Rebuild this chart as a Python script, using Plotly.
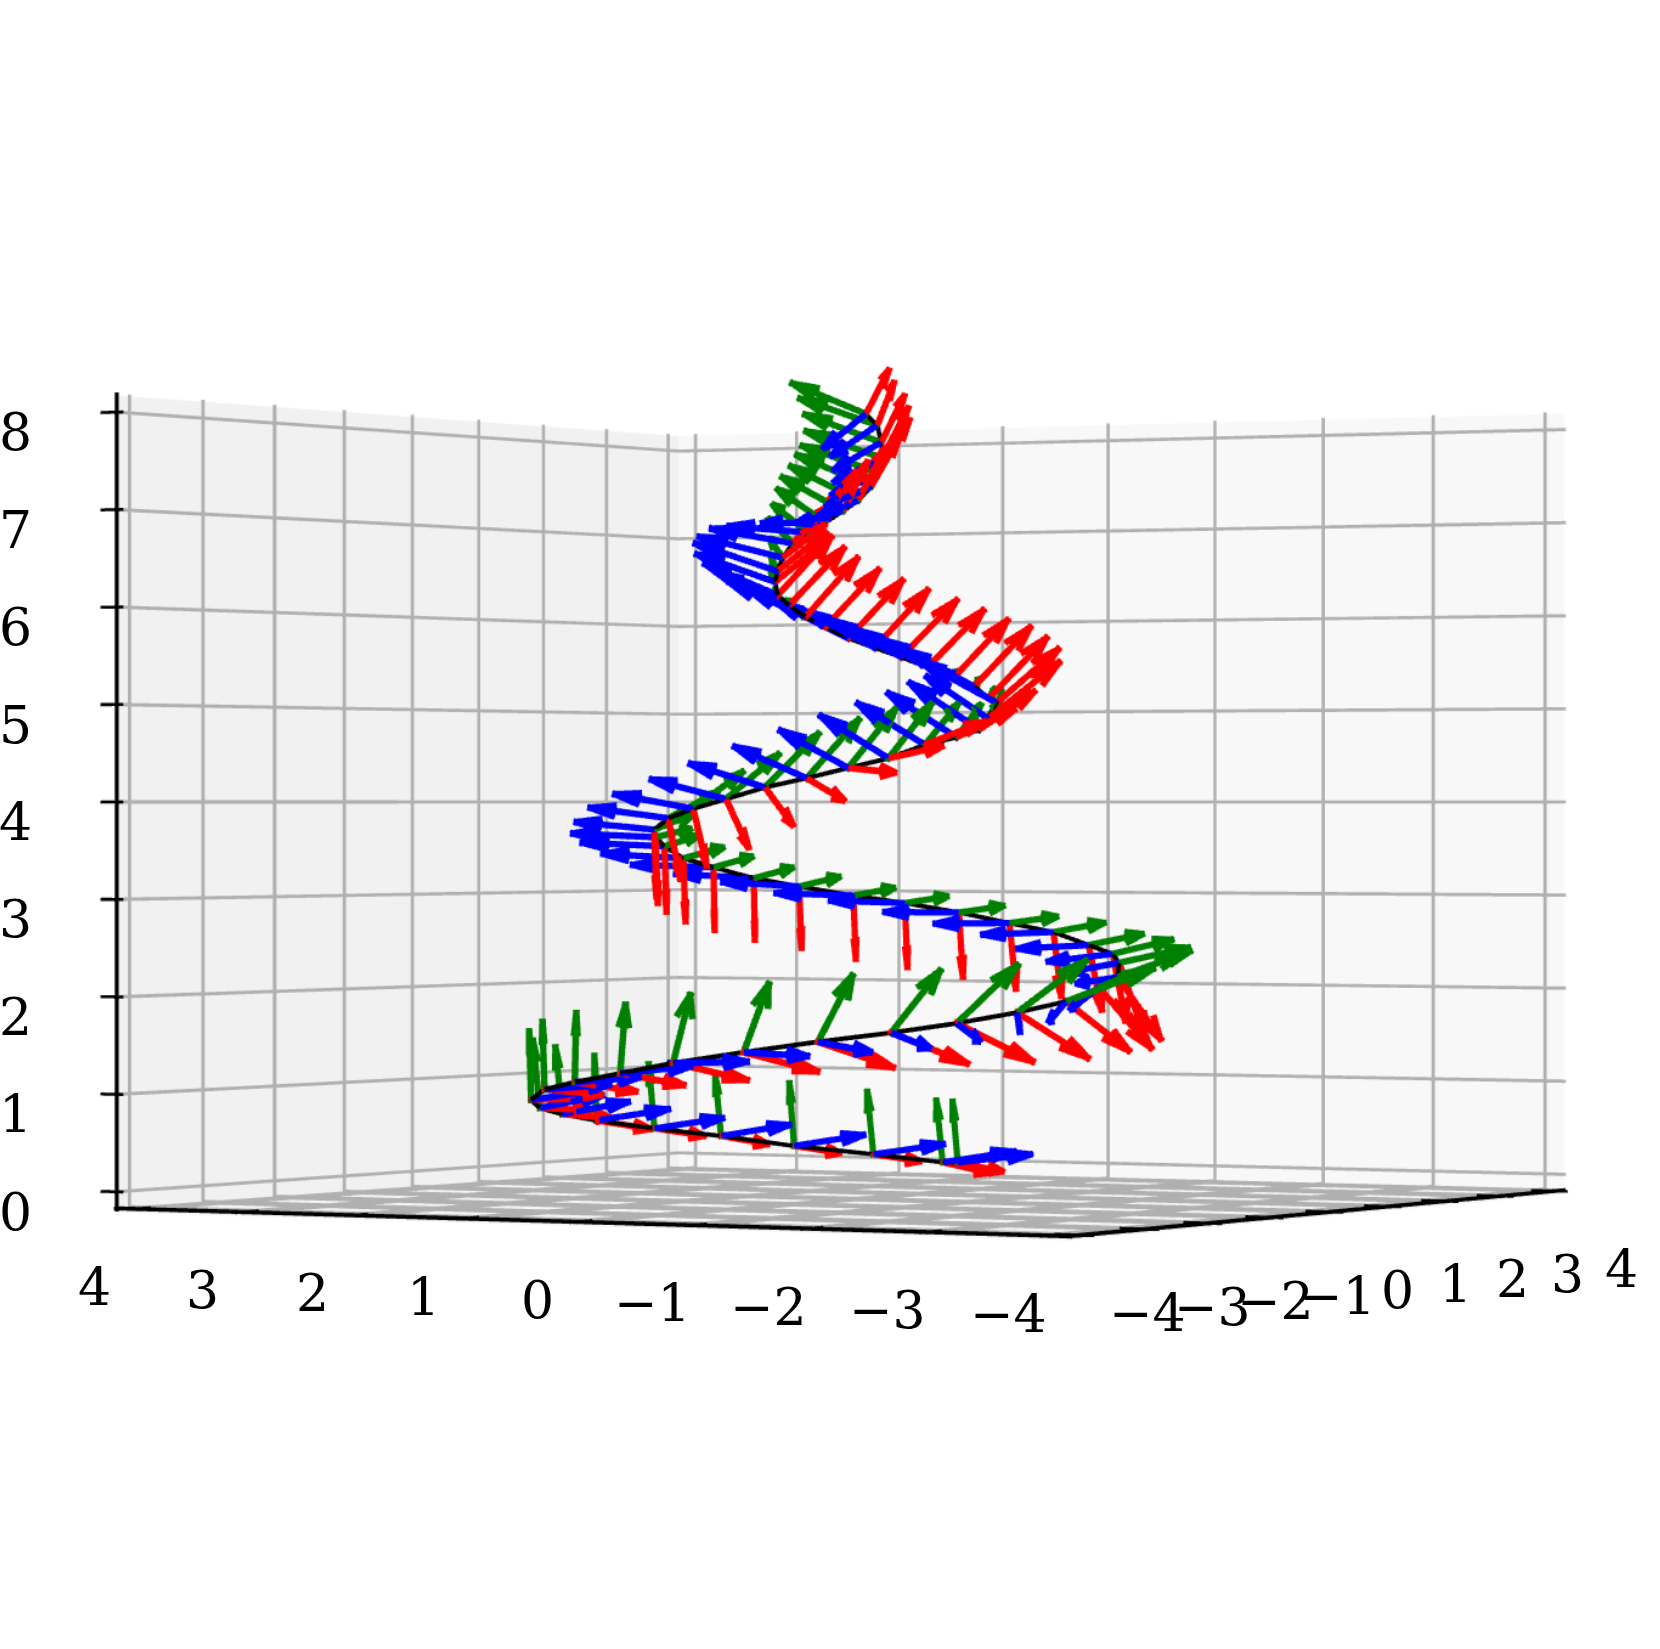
import numpy as np
import plotly.graph_objects as go

# view-aligned readings: u runs across the picture, w runs away from the viewer
SPINE_U = [0.825,0.702,0.134,-0.516,-1.111,-1.648,-2.105,-2.365,-2.527,-2.577,-2.438,-2.184,-1.82,-1.406,-0.863,-0.297,0.259,0.759,1.225,1.61,1.878,2.043,2.063,2.02,1.845,1.574,1.227,0.824,0.387,-0.03,-0.468,-0.832,-1.152,-1.388,-1.531,-1.589,-1.595,-1.48,-1.275,-1.016,-0.711,-0.389,-0.068,0.243,0.527,0.773,0.953,1.026,1.10,1.04,0.928,0.771,0.562,0.351,0.141,-0.07,-0.251,-0.41,-0.539,-0.627,-0.645,-0.625,-0.585,-0.506,-0.387,-0.248,-0.109,0.01,0.11,0.17,0.20,0.19,0.16,0.07]
SPINE_W = [2.70,2.73,2.79,2.72,2.51,2.17,1.68,1.24,0.75,0.23,-0.63,-1.17,-1.64,-1.97,-2.24,-2.35,-2.31,-2.14,-1.86,-1.45,-0.95,-0.36,0.00,0.20,0.74,1.16,1.47,1.69,1.80,1.81,1.72,1.55,1.28,0.96,0.59,0.10,-0.10,-0.33,-0.75,-1.02,-1.22,-1.31,-1.33,-1.26,-1.11,-0.90,-0.66,-0.43,0.00,0.05,0.40,0.60,0.75,0.83,0.87,0.84,0.76,0.65,0.49,0.28,0.00,-0.10,-0.12,-0.15,-0.22,-0.32,-0.35,-0.32,-0.24,-0.13,0.00,0.05,0.08,0.08]
SPINE_Z = [0.06,0.06,0.145,0.24,0.36,0.46,0.57,0.66,0.75,0.86,1.01,1.11,1.22,1.34,1.46,1.57,1.66,1.75,1.85,1.95,2.08,2.17,2.31,2.40,2.48,2.61,2.70,2.81,2.91,2.99,3.09,3.18,3.30,3.40,3.53,3.63,3.71,3.83,3.93,4.03,4.15,4.245,4.35,4.45,4.59,4.67,4.75,4.87,5.04,5.09,5.22,5.32,5.43,5.54,5.64,5.74,5.86,5.96,6.08,6.18,6.31,6.42,6.56,6.71,6.82,6.92,7.04,7.15,7.30,7.45,7.61,7.78,7.96,8.08]

RED_U = [0.38,0.39,0.39,0.38,0.38,0.40,0.43,0.38,0.39,0.47,0.43,0.46,0.48,0.56,0.56,0.57,0.58,0.58,0.54,0.48,0.40,0.33,0.20,0.10,0.10,0.06,0.05,0.03,0.02,0.02,0.02,0.01,0.01,0.02,0.02,0.02,0.02,0.10,0.11,0.18,0.22,0.29,0.36,0.41,0.45,0.44,0.42,0.55,0.48,0.45,0.44,0.42,0.44,0.44,0.42,0.43,0.42,0.41,0.43,0.42,0.42,0.38,0.33,0.30,0.26,0.24,0.19,0.21,0.22,0.24,0.20,0.18,0.13,0.18]
RED_W = [0.57,0.56,0.57,0.57,0.57,0.56,0.54,0.57,0.57,0.52,0.55,0.50,0.45,0.38,0.36,0.30,0.24,0.12,0.00,0.00,-0.05,-0.05,-0.10,-0.05,-0.10,-0.10,-0.10,-0.10,-0.10,-0.10,-0.10,-0.10,-0.10,-0.10,-0.10,-0.10,-0.10,-0.30,-0.36,-0.45,-0.54,-0.58,-0.60,-0.55,-0.49,-0.45,-0.35,-0.10,-0.05,-0.05,-0.05,-0.05,-0.05,-0.05,-0.05,-0.05,-0.05,-0.05,-0.05,-0.05,-0.30,-0.35,-0.45,-0.47,-0.47,-0.40,-0.45,-0.45,-0.45,-0.43,-0.45,-0.49,-0.53,-0.50]
RED_Z = [-0.13,-0.15,-0.11,-0.11,-0.12,-0.11,-0.12,-0.07,-0.05,-0.01,-0.08,-0.12,-0.14,-0.19,-0.21,-0.27,-0.32,-0.39,-0.46,-0.50,-0.62,-0.64,-0.76,-0.70,-0.68,-0.68,-0.70,-0.69,-0.69,-0.68,-0.66,-0.66,-0.67,-0.67,-0.69,-0.69,-0.70,-0.63,-0.59,-0.50,-0.39,-0.23,-0.05,0.12,0.23,0.28,0.39,0.58,0.56,0.63,0.62,0.60,0.60,0.60,0.61,0.61,0.60,0.62,0.60,0.61,0.44,0.39,0.32,0.38,0.41,0.51,0.49,0.53,0.49,0.53,0.50,0.46,0.42,0.43]

GREEN_U = [-0.04,-0.05,-0.05,-0.04,-0.05,-0.05,-0.02,-0.06,-0.06,-0.02,-0.02,0.01,0.04,0.13,0.19,0.26,0.37,0.46,0.52,0.66,0.66,0.55,0.53,0.45,0.41,0.39,0.37,0.35,0.34,0.33,0.33,0.32,0.32,0.33,0.27,0.29,0.33,0.39,0.39,0.41,0.41,0.40,0.36,0.33,0.26,0.20,0.14,0.10,0.06,0.05,0.04,0.03,0.03,0.02,0.02,0.01,0.00,-0.02,-0.02,-0.03,-0.04,-0.06,-0.11,-0.20,-0.28,-0.38,-0.48,-0.53,-0.58,-0.60,-0.60,-0.60,-0.61,-0.58]
GREEN_W = [0.15,0.15,0.15,0.15,0.15,0.15,0.15,0.15,0.15,0.15,0.10,0.05,0.05,0.00,-0.05,-0.10,-0.10,-0.10,-0.15,-0.20,-0.30,-0.40,-0.45,-0.50,-0.58,-0.58,-0.58,-0.58,-0.58,-0.58,-0.58,-0.58,-0.58,-0.58,-0.58,-0.58,-0.50,-0.45,-0.40,-0.30,-0.10,0.00,0.10,0.25,0.45,0.55,0.62,0.67,0.69,0.69,0.69,0.69,0.69,0.69,0.69,0.69,0.69,0.69,0.69,0.69,0.68,0.67,0.65,0.60,0.55,0.45,0.35,0.25,0.20,0.15,0.15,0.15,0.15,0.15]
GREEN_Z = [0.66,0.67,0.68,0.68,0.65,0.69,0.69,0.71,0.71,0.72,0.70,0.71,0.70,0.69,0.69,0.67,0.63,0.59,0.53,0.34,0.38,0.28,0.17,0.16,0.13,0.11,0.08,0.08,0.08,0.09,0.11,0.12,0.12,0.12,0.11,0.09,0.17,0.27,0.38,0.46,0.55,0.60,0.60,0.56,0.43,0.35,0.26,0.19,0.13,0.11,0.08,0.07,0.07,0.07,0.06,0.06,0.06,0.06,0.06,0.07,0.13,0.19,0.23,0.29,0.32,0.37,0.37,0.37,0.34,0.29,0.29,0.30,0.29,0.33]

BLUE_U = [0.59,0.58,0.57,0.57,0.56,0.56,0.59,0.54,0.51,0.52,0.52,0.51,0.55,0.57,0.49,0.40,0.29,0.17,0.01,-0.15,-0.24,-0.34,-0.41,-0.52,-0.57,-0.57,-0.60,-0.60,-0.60,-0.62,-0.61,-0.62,-0.64,-0.63,-0.64,-0.64,-0.60,-0.60,-0.60,-0.57,-0.57,-0.55,-0.52,-0.52,-0.52,-0.53,-0.54,-0.48,-0.53,-0.54,-0.55,-0.56,-0.56,-0.56,-0.56,-0.57,-0.60,-0.60,-0.57,-0.57,-0.61,-0.64,-0.65,-0.63,-0.61,-0.49,-0.36,-0.33,-0.35,-0.37,-0.38,-0.37,-0.36,-0.33]
BLUE_W = [-0.38,-0.38,-0.38,-0.38,-0.38,-0.38,-0.38,-0.38,-0.38,-0.38,-0.45,-0.48,-0.42,-0.40,-0.50,-0.56,-0.62,-0.65,-0.67,-0.66,-0.63,-0.60,-0.55,-0.45,-0.35,-0.35,-0.35,-0.35,-0.35,-0.35,-0.35,-0.35,-0.35,-0.35,-0.35,-0.35,-0.35,-0.33,-0.33,-0.33,-0.33,-0.30,-0.28,-0.25,-0.25,-0.25,-0.25,-0.25,-0.20,-0.20,-0.20,-0.20,-0.20,-0.20,-0.20,-0.20,-0.20,-0.20,-0.20,-0.20,-0.25,-0.20,-0.20,-0.30,-0.40,-0.50,-0.55,-0.55,-0.55,-0.55,-0.55,-0.55,-0.55,-0.55]
BLUE_Z = [0.11,0.14,0.13,0.14,0.14,0.13,0.14,0.15,0.15,0.12,0.07,0.07,0.09,0.03,-0.02,-0.08,-0.13,-0.16,-0.19,-0.19,-0.21,-0.05,-0.08,-0.07,-0.03,-0.02,0.00,0.01,0.03,0.03,0.05,0.05,0.03,0.05,0.04,0.04,0.08,0.11,0.15,0.20,0.24,0.32,0.38,0.43,0.42,0.45,0.48,0.43,0.38,0.39,0.38,0.39,0.39,0.39,0.39,0.38,0.38,0.36,0.34,0.32,0.28,0.28,0.21,0.14,0.05,-0.03,-0.15,-0.21,-0.23,-0.26,-0.28,-0.32,-0.35,-0.39]

TICKS_XY = [-4, -3, -2, -1, 0, 1, 2, 3, 4]
TICKS_Z = [0, 1, 2, 3, 4, 5, 6, 7, 8]
LABELS_XY = ["−4", "−3", "−2", "−1", "0", "1", "2", "3", "4"]

LIM = 4.17
ZLO, ZHI = -0.17, 8.17
AZ_SIN, AZ_COS = 0.866, 0.5
HEAD = 0.3
SPREAD = np.radians(15)

# the plot is laid out much larger than the window, to get the long lens of the reference
CANVAS = 7000
EYE = 7.98
CENTER_X, CENTER_Y = 857, 802
PX_PER_BOX = CANVAS / 2 / (EYE * np.tan(np.pi / 8))
SPAN = 2 * LIM
ROOM = 6  # axis ranges run past the panes because plotly clips marks at its ranges
CAM = np.array([AZ_COS * EYE, -AZ_SIN * EYE, 0.0])


def to_xy(u, w):
    u, w = np.asarray(u), np.asarray(w)
    return -AZ_SIN * u + AZ_COS * w, AZ_COS * u + AZ_SIN * w


def to_box(p):
    return np.array([-p[0] / SPAN, p[1] / SPAN, (p[2] - 4) * 0.75 / SPAN])


def from_box(b):
    return np.array([-b[0] * SPAN, b[1] * SPAN, b[2] * SPAN / 0.75 + 4])


def rotate(v, k, a):
    return v * np.cos(a) + np.cross(k, v) * np.sin(a) + k * np.dot(k, v) * (1 - np.cos(a))


FLAT = dict(ambient=1, diffuse=0, specular=0, roughness=1, fresnel=0)


class Strokes:
    # mesh3d strips that face the camera, since gl lines stay one pixel wide here
    def __init__(self):
        self.pts, self.i, self.j, self.k = [], [], [], []

    def add(self, p, q, px, lift=0.0):
        a, b = to_box(p), to_box(q)
        d = b - a
        length = np.linalg.norm(d)
        if length == 0:
            return
        d = d / length
        view = CAM - (a + b) / 2
        side = np.cross(d, view)
        side = side / np.linalg.norm(side) * px / 2 / PX_PER_BOX
        up = view / np.linalg.norm(view) * lift
        end = d * px / 2 / PX_PER_BOX
        n = len(self.pts)
        for c in (a - end - side, a - end + side, b + end + side, b + end - side):
            self.pts.append(from_box(c + up))
        self.i += [n, n]
        self.j += [n + 1, n + 2]
        self.k += [n + 2, n + 3]

    def trace(self, color):
        pts = np.array(self.pts)
        return go.Mesh3d(x=pts[:, 0], y=pts[:, 1], z=pts[:, 2], i=self.i, j=self.j, k=self.k, color=color,
                         flatshading=True, hoverinfo="skip", lighting=FLAT)


def pane(x, y, z, color):
    return go.Mesh3d(x=x, y=y, z=z, i=[0, 0], j=[1, 2], k=[2, 3], color=color, flatshading=True,
                     hoverinfo="skip", lighting=FLAT)


bx, by = to_xy(SPINE_U, SPINE_W)
fig = go.Figure()

fig.add_trace(pane([LIM] * 4, [-LIM, LIM, LIM, -LIM], [ZLO, ZLO, ZHI, ZHI], "#f1f1f1"))
fig.add_trace(pane([LIM, -LIM, -LIM, LIM], [LIM] * 4, [ZLO, ZLO, ZHI, ZHI], "#f8f8f8"))
fig.add_trace(pane([LIM, -LIM, -LIM, LIM], [-LIM, -LIM, LIM, LIM], [ZLO - 0.04] * 4, "#f4f4f4"))

grid = Strokes()
for t in TICKS_XY:
    grid.add((LIM, t, ZLO), (LIM, t, ZHI), 3.4, 0.006)
    grid.add((t, LIM, ZLO), (t, LIM, ZHI), 3.4, 0.006)
    grid.add((t, -LIM, ZLO), (t, LIM, ZLO), 4.6)
    grid.add((-LIM, t, ZLO), (LIM, t, ZLO), 4.6)
for t in TICKS_Z:
    grid.add((LIM, -LIM, t), (LIM, LIM, t), 3.4, 0.006)
    grid.add((-LIM, LIM, t), (LIM, LIM, t), 3.4, 0.006)
fig.add_trace(grid.trace("#b0b0b0"))

frame = Strokes()
frame.add((LIM, -LIM, ZLO), (LIM, -LIM, ZHI), 4, 0.02)
frame.add((LIM, -LIM, ZLO), (-LIM, -LIM, ZLO), 4, 0.02)
frame.add((-LIM, -LIM, ZLO), (-LIM, LIM, ZLO), 4, 0.02)
for t in TICKS_XY:
    frame.add((t, -LIM - 0.1, ZLO), (t, -LIM + 0.2, ZLO), 3, 0.02)
    frame.add((-LIM - 0.1, t, ZLO), (-LIM + 0.2, t, ZLO), 3, 0.02)
for t in TICKS_Z:
    frame.add((LIM + 0.14, -LIM, t), (LIM - 0.05, -LIM, t), 3, 0.02)
fig.add_trace(frame.trace("black"))

spine = Strokes()
for n in range(len(SPINE_U) - 1):
    spine.add((bx[n], by[n], SPINE_Z[n]), (bx[n + 1], by[n + 1], SPINE_Z[n + 1]), 4.5)
fig.add_trace(spine.trace("black"))

for col, vu, vw, vz in [("#ff0000", RED_U, RED_W, RED_Z),
                        ("#008000", GREEN_U, GREEN_W, GREEN_Z),
                        ("#0000ff", BLUE_U, BLUE_W, BLUE_Z)]:
    dx, dy = to_xy(vu, vw)
    shafts = Strokes()
    for n in range(len(SPINE_U)):
        p = np.array([bx[n], by[n], SPINE_Z[n]])
        v = np.array([dx[n], dy[n], vz[n]])
        tip = p + v
        k = np.array([v[1], -v[0], 0.0])
        k = k / np.linalg.norm(k)
        shafts.add(p, tip, 6.5)
        shafts.add(tip, tip - HEAD * rotate(v, k, SPREAD), 6.5)
        shafts.add(tip, tip - HEAD * rotate(v, k, -SPREAD), 6.5)
    fig.add_trace(shafts.trace(col))


def tick_text(x, y, z, text, dx, dy):
    return dict(x=x, y=y, z=z, text=text, showarrow=False, xshift=dx, yshift=-dy, xanchor="center", yanchor="middle",
                font=dict(family="DejaVu Serif", size=52, color="black"))


notes = []
for t, s in zip(TICKS_XY, LABELS_XY):
    notes.append(tick_text(t, -LIM, ZLO, s, -40, 78))
    notes.append(tick_text(-LIM, t, ZLO, s, 67, 78))
for t in TICKS_Z:
    notes.append(tick_text(LIM, -LIM, t, str(t), -101, 20))


def axis(rng):
    return dict(range=rng, title="", showgrid=False, zeroline=False, showline=False, ticks="",
                showticklabels=False, showbackground=False, showspikes=False)


fig.update_layout(
    width=CANVAS, height=CANVAS, margin=dict(l=0, r=0, t=0, b=0), showlegend=False, paper_bgcolor="white",
    scene=dict(
        domain=dict(x=[0, 1], y=[0, 1]),
        xaxis=axis([ROOM, -ROOM]),
        yaxis=axis([-ROOM, ROOM]),
        zaxis=axis([4 - ROOM, 4 + ROOM]),
        aspectmode="manual",
        aspectratio=dict(x=2 * ROOM / SPAN, y=2 * ROOM / SPAN, z=2 * ROOM * 0.75 / SPAN),
        camera=dict(eye=dict(x=CAM[0], y=CAM[1], z=0), up=dict(x=0, y=0, z=1)),
        annotations=notes,
    ),
)
shift = (
    "var gd=document.getElementById('{plot_id}');gd.style.position='absolute';"
    f"gd.style.left='{CENTER_X - CANVAS // 2}px';gd.style.top='{CENTER_Y - CANVAS // 2}px';"
    "document.documentElement.style.overflow='hidden';document.body.style.overflow='hidden';"
)
fig.write_html("out.html", post_script=shift, config={"displayModeBar": False})
